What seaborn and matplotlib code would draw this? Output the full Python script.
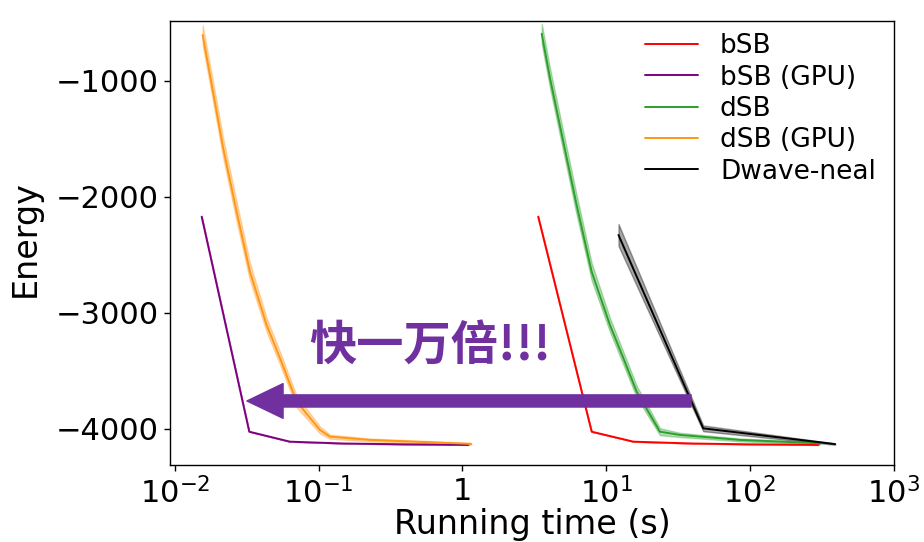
import numpy as np
import pandas as pd
import matplotlib
matplotlib.use("Agg")
import matplotlib.pyplot as plt
from matplotlib.ticker import NullLocator
import seaborn as sns

# ---- data: mean energy vs. wall-clock time, with half-width of the spread band ----
solvers = ["bSB", "bSB (GPU)", "dSB", "dSB (GPU)", "Dwave-neal"]
colors = ["red", "purple", "tab:green", "#ff9617", "black"]

bsb_time = [3.37, 7.94, 15.5, 40.0, 100.0, 300.0]
bsb_energy = [-2172, -4026, -4112, -4128, -4135, -4140]
bsb_spread = [0, 0, 0, 0, 0, 0]

bsb_gpu_time = [0.01535, 0.0329, 0.0631, 0.15, 0.4, 1.1]
bsb_gpu_energy = [-2172, -4026, -4112, -4128, -4135, -4140]
bsb_gpu_spread = [0, 0, 0, 0, 0, 0]

dsb_time = [3.565, 4.07, 5.04, 6.24, 7.94, 10.64, 13.18, 16.33, 23.7, 32.7, 85.5, 308.0]
dsb_energy = [-595, -977, -1526, -2072, -2647, -3106, -3391, -3681, -4026, -4054, -4097, -4126]
dsb_spread = [85, 85, 85, 85, 75, 60, 55, 50, 30, 18, 12, 8]

dsb_gpu_time = [0.01559, 0.01754, 0.02168, 0.02687, 0.03326, 0.04346, 0.0538, 0.07031,
                0.1021, 0.1199, 0.2275, 1.15]
dsb_gpu_energy = [-606, -951, -1583, -2129, -2647, -3106, -3391, -3767, -4011, -4069, -4097, -4131]
dsb_gpu_spread = [85, 85, 85, 85, 75, 60, 55, 50, 30, 18, 12, 8]

neal_time = [12.2, 47.4, 392.0]
neal_energy = [-2330, -3997, -4133]
neal_spread = [95, 25, 6]

series = [
    (bsb_time, bsb_energy, bsb_spread),
    (bsb_gpu_time, bsb_gpu_energy, bsb_gpu_spread),
    (dsb_time, dsb_energy, dsb_spread),
    (dsb_gpu_time, dsb_gpu_energy, dsb_gpu_spread),
    (neal_time, neal_energy, neal_spread),
]

xtick_values = [1e-2, 1e-1, 1, 1e1, 1e2, 1e3]
xtick_labels = [r"$10^{-2}$", r"$10^{-1}$", "1", r"$10^{1}$", r"$10^{2}$", r"$10^{3}$"]
ytick_values = [-1000, -2000, -3000, -4000]

# long table: each time point carries a lower and an upper sample so the
# band spans the spread and the estimator returns the mean
rows = []
for name, (t, e, s) in zip(solvers, series):
    for ti, ei, si in zip(t, e, s):
        rows.append((name, ti, ei - si))
        rows.append((name, ti, ei + si))
df = pd.DataFrame(rows, columns=["solver", "time", "energy"])

sns.set_theme(style="ticks", rc={
    "axes.edgecolor": "black",
    "axes.linewidth": 1.0,
    "axes.labelcolor": "black",
    "text.color": "black",
    "xtick.color": "black",
    "ytick.color": "black",
    "xtick.major.size": 4.5,
    "ytick.major.size": 4.5,
    "xtick.major.width": 1.0,
    "ytick.major.width": 1.0,
})
plt.rcParams["font.family"] = ["DejaVu Sans", "Noto Sans CJK SC"]
plt.rcParams["mathtext.fontset"] = "dejavusans"

fig = plt.figure(figsize=(9.24, 5.42), dpi=100)
ax = fig.add_axes([0.1845, 0.1421, 0.7825, 0.8192])

sns.lineplot(data=df, x="time", y="energy", hue="solver", hue_order=solvers,
             palette=colors, estimator="mean", errorbar=("pi", 100),
             linewidth=1.4, err_kws={"alpha": 0.35}, ax=ax)

ax.set_xscale("log")
ax.set_xlim(10 ** -2.031, 1e3)
ax.set_ylim(-4313, -485)
ax.set_xticks(xtick_values)
ax.set_xticklabels(xtick_labels)
ax.xaxis.set_minor_locator(NullLocator())
ax.set_yticks(ytick_values)
ax.tick_params(axis="both", labelsize=22, pad=4)

ax.set_xlabel("Running time (s)", fontsize=24)
ax.set_ylabel("Energy", fontsize=24)
ax.xaxis.set_label_coords(0.5, -0.097)
ax.yaxis.set_label_coords(-0.178, 0.51)

handles, labels = ax.get_legend_handles_labels()
ax.legend(handles, labels, loc="upper left", bbox_to_anchor=(0.656, 0.972),
          frameon=False, fontsize=19, labelspacing=0.2, handlelength=2.0,
          handletextpad=0.85, borderpad=0.0, borderaxespad=0.0)

# speed-up annotation: arrow from the Dwave-neal curve back to the GPU curves
purple = "#7030a0"
ax.annotate("", xy=(0.0317, -3761), xytext=(39.0, -3761),
            arrowprops=dict(arrowstyle="simple,head_length=1.04,head_width=1.0,tail_width=0.35",
                            mutation_scale=25, color=purple, shrinkA=0, shrinkB=0))
ax.text(0.595, -3296, "快一万倍!!!", color=purple, fontsize=34, fontweight="bold",
        family=["Noto Sans CJK SC", "DejaVu Sans"], ha="center", va="center")

fig.savefig("out.png", dpi=100)
